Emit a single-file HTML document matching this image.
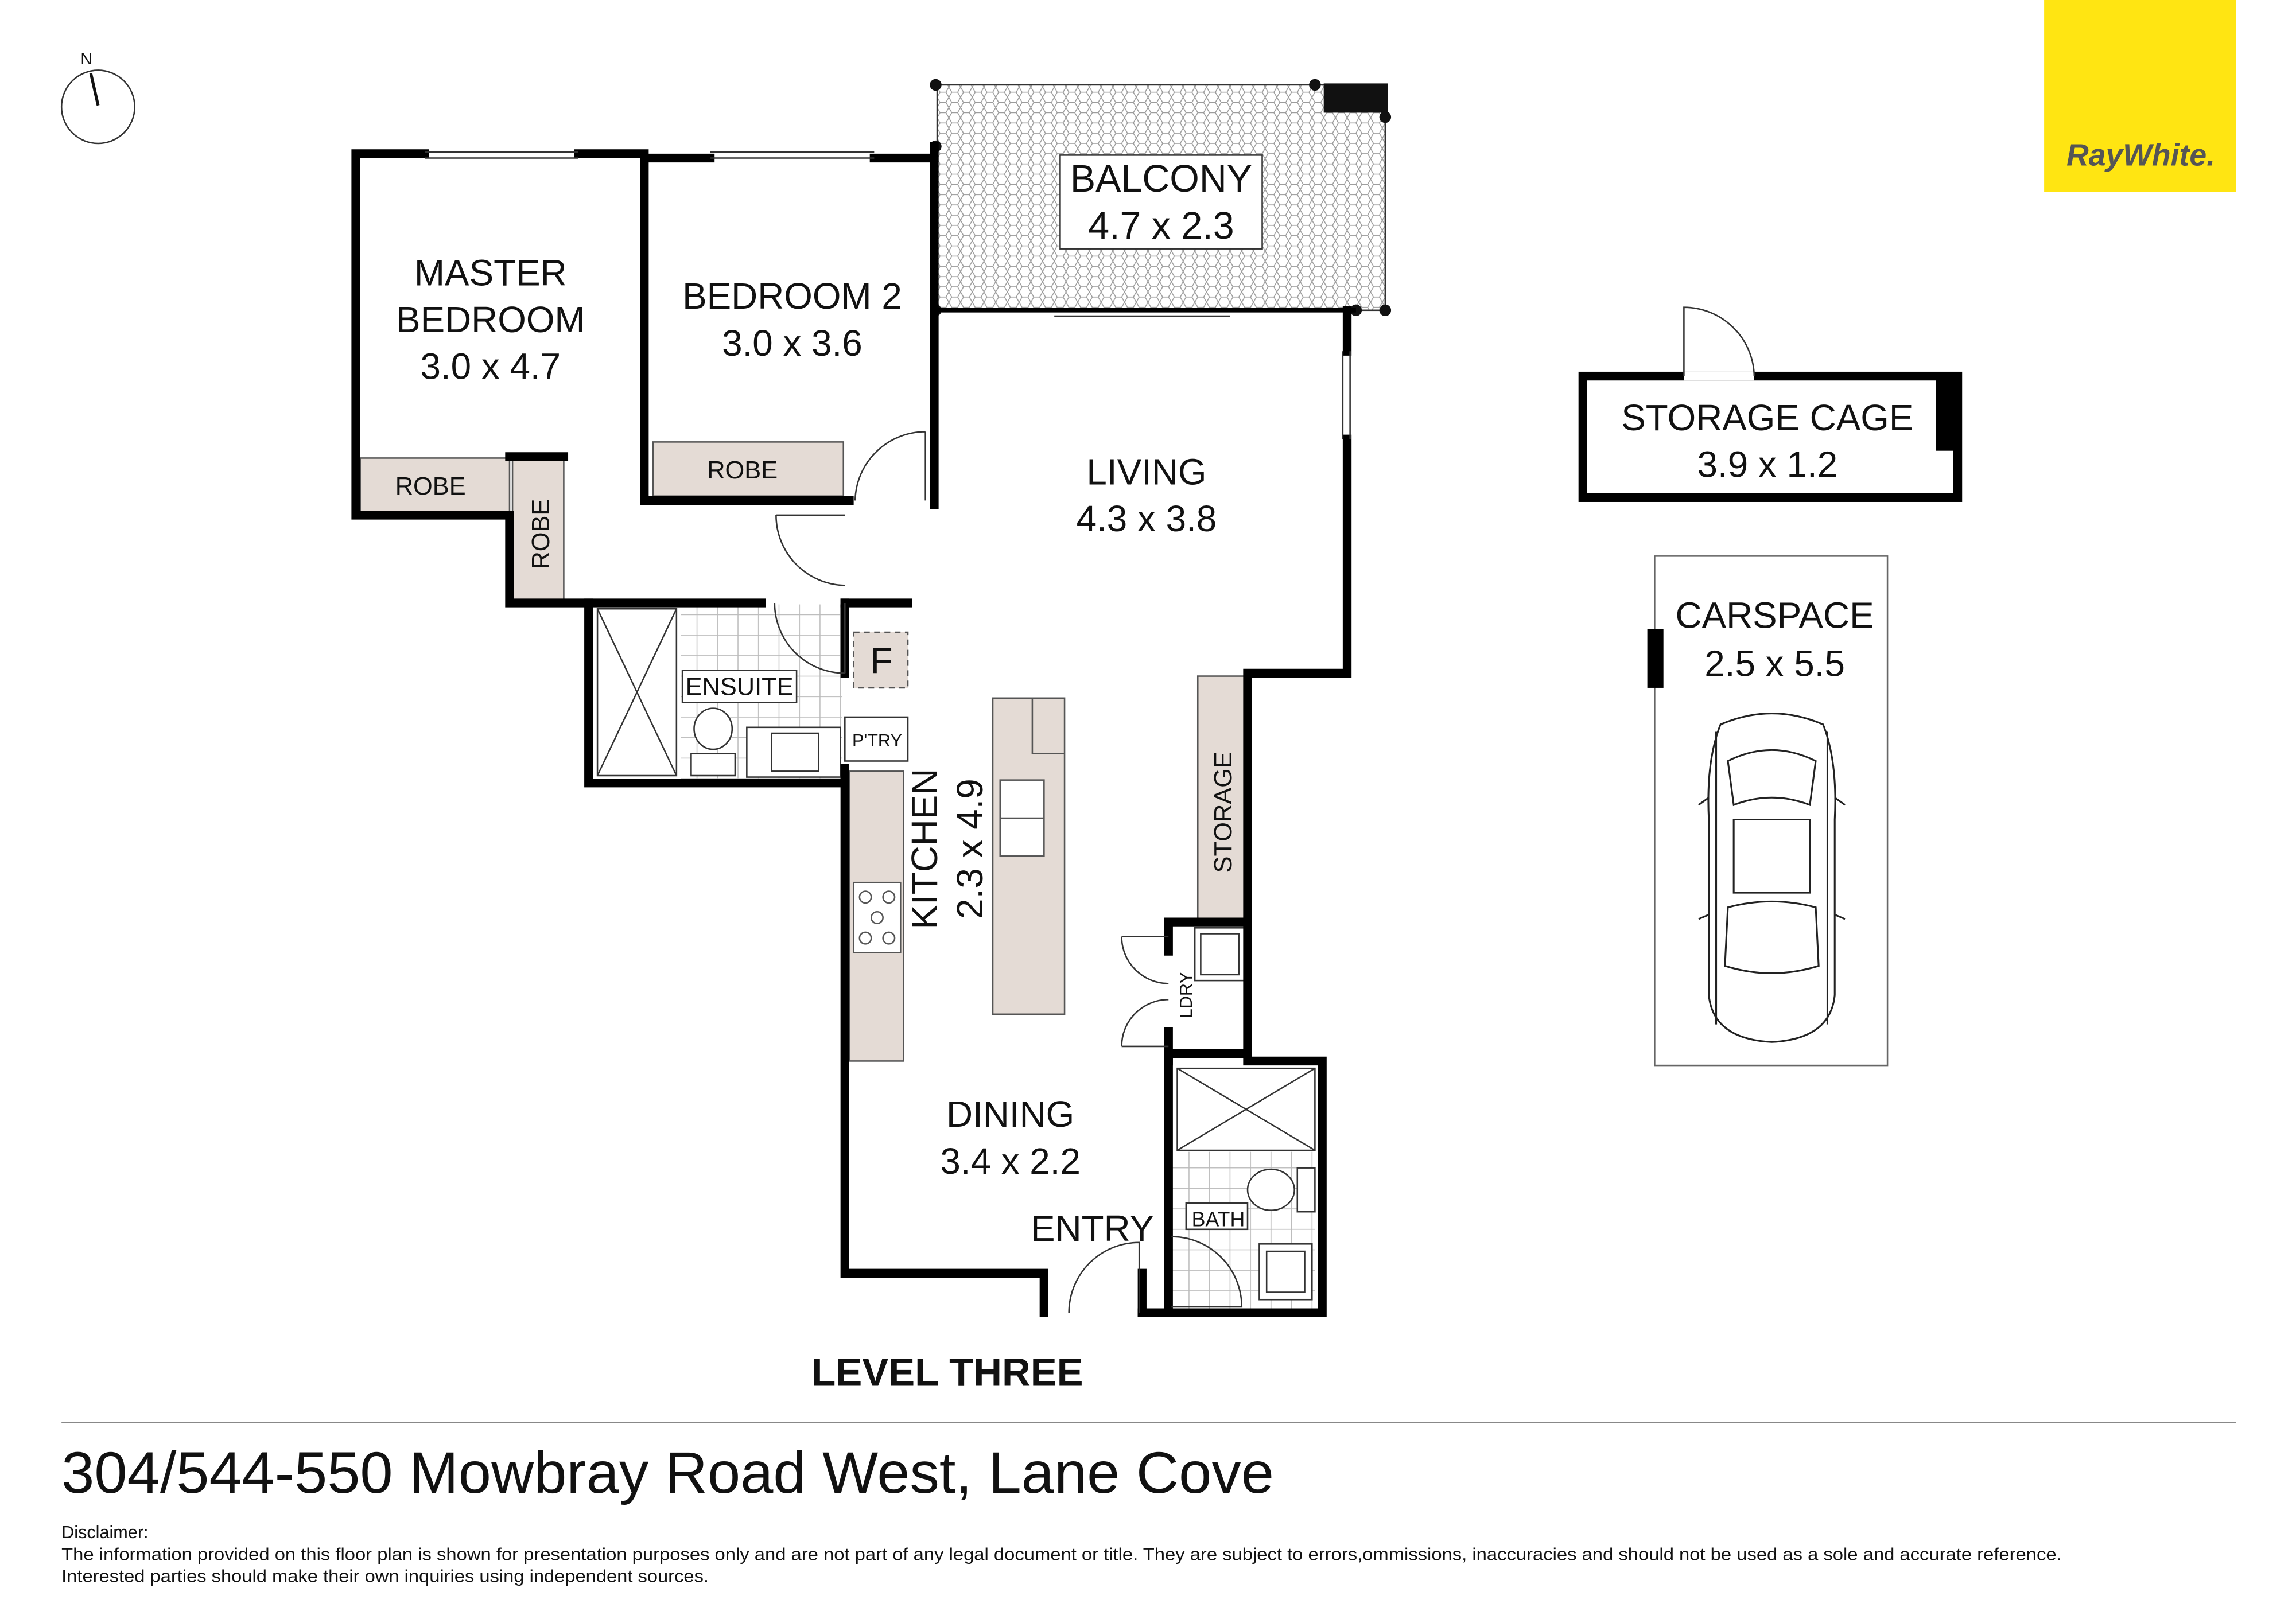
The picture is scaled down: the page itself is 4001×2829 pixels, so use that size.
<!DOCTYPE html>
<html><head><meta charset="utf-8"><style>
html,body{margin:0;padding:0;background:#fff}
svg{display:block}
text{font-family:"Liberation Sans",sans-serif;fill:#111}
</style></head><body>
<svg width="4001" height="2829" viewBox="0 0 1568 1109" preserveAspectRatio="none" xmlns="http://www.w3.org/2000/svg">
<defs>
<pattern id="hx" width="8" height="7" patternUnits="userSpaceOnUse">
<path d="M0 3.5 L2 0 L6 0 L8 3.5 L6 7 L2 7 Z" fill="none" stroke="#999" stroke-width="0.6"/>
</pattern>
<pattern id="tile" width="14" height="14" patternUnits="userSpaceOnUse">
<rect width="14" height="14" fill="#fff" stroke="#bbb" stroke-width="0.6"/>
</pattern>
</defs>
<rect width="1568" height="1109" fill="#fff"/>

<circle cx="67" cy="73" r="25" fill="none" stroke="#333" stroke-width="1"/>
<line x1="62" y1="50" x2="67" y2="72" stroke="#111" stroke-width="2"/>
<text x="55" y="44" font-size="11">N</text>

<rect x="1396" y="0" width="131" height="131" fill="#FFE512"/>
<text x="1462" y="113" font-size="21" font-weight="bold" font-style="italic" text-anchor="middle" style="fill:#555">RayWhite.</text>

<rect x="640" y="58" width="306" height="154" fill="url(#hx)" stroke="#333" stroke-width="1"/>
<rect x="904" y="57" width="44" height="20" fill="#111"/>
<g fill="#111"><circle cx="639" cy="58" r="4"/><circle cx="639" cy="100" r="4"/><circle cx="898" cy="58" r="4"/><circle cx="946" cy="80" r="4"/><circle cx="946" cy="212" r="4"/><circle cx="926" cy="212" r="4"/><circle cx="639" cy="212" r="4"/></g>
<rect x="724" y="106" width="138" height="64" fill="#fff" stroke="#333" stroke-width="1"/>
<text x="793" y="131" font-size="26" text-anchor="middle">BALCONY</text>
<text x="793" y="163" font-size="26" text-anchor="middle">4.7 x 2.3</text>

<g fill="#e4dbd5">
<rect x="246" y="313" width="102" height="37"/>
<rect x="350" y="313" width="35" height="97"/>
<rect x="446" y="302" width="130" height="37"/>
<rect x="818" y="462" width="34" height="168"/>
<rect x="580" y="527" width="37" height="198"/>
<rect x="678" y="477" width="49" height="216"/>
<rect x="583" y="432" width="37" height="38"/>
</g>
<rect x="583" y="432" width="37" height="38" fill="none" stroke="#555" stroke-dasharray="4 3"/>
<g fill="none" stroke="#555" stroke-width="1">
<rect x="246" y="313" width="102" height="37"/>
<rect x="350" y="313" width="35" height="97"/>
<rect x="446" y="302" width="130" height="37"/>
<rect x="818" y="462" width="34" height="168"/>
<rect x="580" y="527" width="37" height="198"/>
<rect x="678" y="477" width="49" height="216"/>
<polyline points="705,477 705,515 727,515"/>
<rect x="683" y="533" width="30" height="52" fill="#fff"/>
<line x1="683" y1="559" x2="713" y2="559"/>
<rect x="583" y="603" width="32" height="48" fill="#fff"/>
<circle cx="591" cy="613" r="4"/><circle cx="607" cy="613" r="4"/><circle cx="599" cy="627" r="4"/><circle cx="591" cy="641" r="4"/><circle cx="607" cy="641" r="4"/>
</g>

<rect x="465" y="413" width="110" height="120" fill="url(#tile)"/>
<rect x="800" y="787" width="98" height="108" fill="url(#tile)"/>
<g fill="#fff" stroke="#333" stroke-width="1">
<rect x="408" y="416" width="54" height="114"/>
<line x1="408" y1="416" x2="462" y2="530"/><line x1="462" y1="416" x2="408" y2="530"/>
<rect x="466" y="458" width="78" height="22"/>
<ellipse cx="487" cy="498" rx="13" ry="14"/>
<rect x="472" y="515" width="30" height="15"/>
<rect x="510" y="497" width="64" height="34"/>
<rect x="527" y="501" width="32" height="26"/>
<rect x="577" y="490" width="43" height="30"/>
<rect x="816" y="634" width="34" height="36"/><rect x="820" y="638" width="26" height="28"/>
<rect x="804" y="730" width="94" height="56"/>
<line x1="804" y1="730" x2="898" y2="786"/><line x1="898" y1="730" x2="804" y2="786"/>
<ellipse cx="868" cy="813" rx="16" ry="14"/>
<rect x="886" y="798" width="12" height="30"/>
<rect x="810" y="822" width="42" height="18"/>
<rect x="860" y="850" width="36" height="38"/><rect x="865" y="855" width="26" height="28"/>
</g>

<g fill="none" stroke="#000" stroke-width="6" stroke-linecap="square">
<polyline points="290,105 243,105 243,352 348,352 348,412 402,412 402,535 577,535"/>
<polyline points="395,105 440,105 440,342 580,342"/>
<polyline points="440,108 485,108"/>
<polyline points="597,108 638,108 638,100"/>
<line x1="638" y1="100" x2="638" y2="345"/>
<polyline points="348,312 385,312"/>
<polyline points="402,412 520,412"/>
<polyline points="577,412 620,412"/>
<line x1="577" y1="412" x2="577" y2="460"/>
<polyline points="577,525 577,870 713,870 713,897"/>
<polyline points="780,897 903,897 903,725 852,725 852,460 920,460 920,300"/>
<line x1="920" y1="212" x2="920" y2="240"/>
<polyline points="798,725 798,897"/>
<polyline points="798,630 852,630"/>
<polyline points="798,630 798,650"/>
<polyline points="798,705 798,725"/>
<polyline points="798,720 852,720"/>
<polyline points="780,897 780,870"/>
</g>
<g stroke="#333" stroke-width="1" fill="none">
<line x1="290" y1="104" x2="395" y2="104"/><line x1="290" y1="108" x2="395" y2="108"/>
<line x1="485" y1="104" x2="597" y2="104"/><line x1="485" y1="108" x2="597" y2="108"/>
<line x1="917" y1="240" x2="917" y2="300"/><line x1="922" y1="240" x2="922" y2="300"/>
<line x1="640" y1="212" x2="926" y2="212" stroke-width="3" stroke="#000"/>
<line x1="720" y1="216" x2="840" y2="216"/>
<path d="M632 295 L632 342 M632 295 A48 48 0 0 0 584 342"/>
<path d="M577 412 L577 460 M529 412 A48 48 0 0 0 577 460"/>
<path d="M530 352 L577 352 M530 352 A48 48 0 0 0 577 400"/>
<path d="M766 640 L798 640 M766 640 A32 32 0 0 0 798 672"/>
<path d="M766 715 L798 715 M766 715 A32 32 0 0 1 798 683"/>
<path d="M730 897 A48 48 0 0 1 778 849 L778 897"/>
<path d="M800 845 A48 48 0 0 1 848 893 L800 893"/>
</g>

<g font-size="25" text-anchor="middle">
<text x="335" y="195">MASTER</text><text x="335" y="227">BEDROOM</text><text x="335" y="259">3.0 x 4.7</text>
<text x="541" y="211">BEDROOM 2</text><text x="541" y="243">3.0 x 3.6</text>
<text x="783" y="331">LIVING</text><text x="783" y="363">4.3 x 3.8</text>
<text x="690" y="770">DINING</text><text x="690" y="802">3.4 x 2.2</text>
<text x="746" y="848">ENTRY</text>
<text x="602" y="460">F</text>
</g>
<g font-size="17" text-anchor="middle">
<text x="294" y="338">ROBE</text><text x="507" y="327">ROBE</text>
<text x="505" y="475">ENSUITE</text>
<text x="375" y="365" transform="rotate(-90 375 365)">ROBE</text>
<text x="841" y="555" transform="rotate(-90 841 555)">STORAGE</text>
</g>
<text x="599" y="510" font-size="12" text-anchor="middle">P'TRY</text>
<text x="832" y="838" font-size="14" text-anchor="middle">BATH</text>
<text x="814" y="680" font-size="12" text-anchor="middle" transform="rotate(-90 814 680)">LDRY</text>
<text x="640" y="580" font-size="25" text-anchor="middle" transform="rotate(-90 640 580)">KITCHEN</text>
<text x="671" y="580" font-size="25" text-anchor="middle" transform="rotate(-90 671 580)">2.3 x 4.9</text>

<rect x="1081" y="257" width="256" height="83" fill="none" stroke="#000" stroke-width="6"/>
<rect x="1322" y="257" width="16" height="51" fill="#000"/>
<rect x="1150" y="254" width="48" height="6" fill="#fff"/>
<path d="M1150 257 L1150 210 A48 48 0 0 1 1198 257" fill="none" stroke="#333" stroke-width="1"/>
<text x="1207" y="294" font-size="25" text-anchor="middle">STORAGE CAGE</text>
<text x="1207" y="326" font-size="25" text-anchor="middle">3.9 x 1.2</text>

<rect x="1130" y="380" width="159" height="348" fill="none" stroke="#666" stroke-width="1"/>
<rect x="1125" y="430" width="11" height="40" fill="#000"/>
<text x="1212" y="429" font-size="25" text-anchor="middle">CARSPACE</text>
<text x="1212" y="462" font-size="25" text-anchor="middle">2.5 x 5.5</text>
<g fill="none" stroke="#222" stroke-width="1.2">
<path d="M1175 495 Q1210 480 1245 495 Q1255 520 1253 560 L1253 680 Q1250 710 1210 712 Q1170 710 1167 680 L1167 560 Q1165 520 1175 495 Z"/>
<path d="M1180 520 Q1210 505 1240 520 L1236 550 Q1210 540 1184 550 Z"/>
<path d="M1184 560 L1236 560 L1236 610 L1184 610 Z"/>
<path d="M1180 620 Q1210 612 1240 620 L1242 660 Q1210 670 1178 660 Z"/>
<path d="M1172 500 L1172 700 M1248 500 L1248 700"/>
<path d="M1167 545 L1160 550 M1253 545 L1260 550 M1167 625 L1160 628 M1253 625 L1260 628"/>
</g>

<text x="647" y="947" font-size="27" font-weight="bold" text-anchor="middle">LEVEL THREE</text>
<line x1="42" y1="972" x2="1527" y2="972" stroke="#888" stroke-width="1"/>
<text x="42" y="1020" font-size="40" textLength="828" lengthAdjust="spacingAndGlyphs">304/544-550 Mowbray Road West, Lane Cove</text>
<text x="42" y="1051" font-size="12">Disclaimer:</text>
<text x="42" y="1066" font-size="12" textLength="1366" lengthAdjust="spacingAndGlyphs">The information provided on this floor plan is shown for presentation purposes only and are not part of any legal document or title. They are subject to errors,ommissions, inaccuracies and should not be used as a sole and accurate reference.</text>
<text x="42" y="1081" font-size="12" textLength="442" lengthAdjust="spacingAndGlyphs">Interested parties should make their own inquiries using independent sources.</text>
</svg>
</body></html>
